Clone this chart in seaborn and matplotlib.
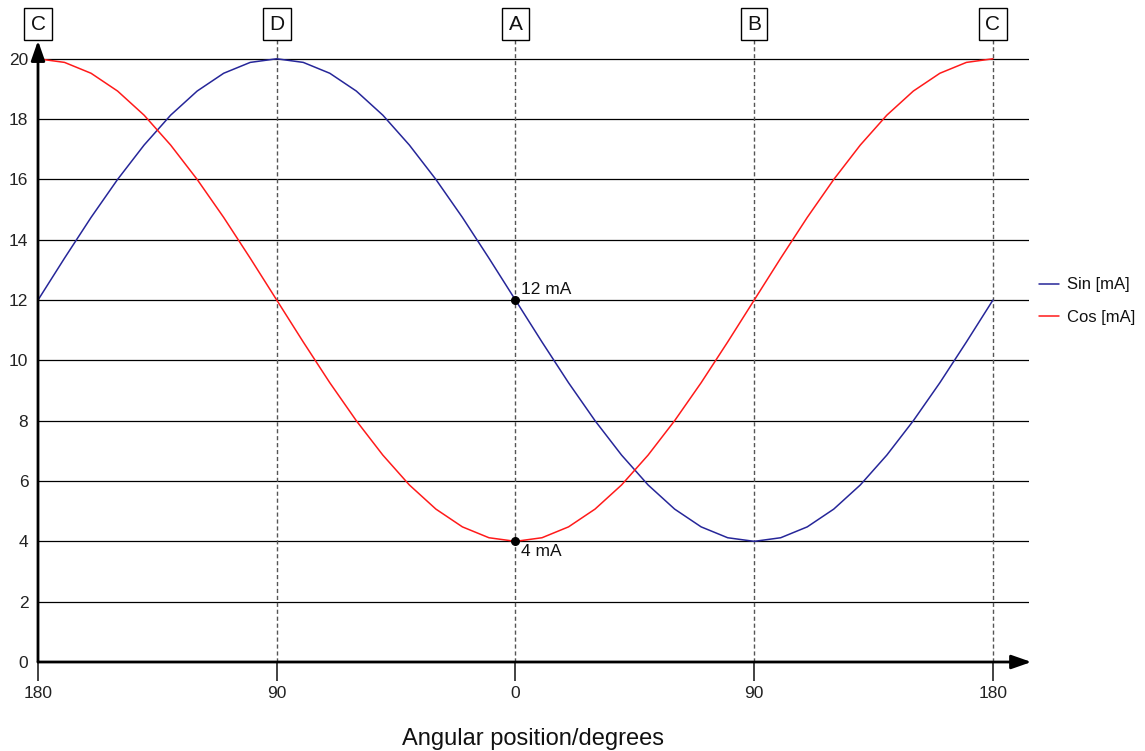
import matplotlib
matplotlib.use('Agg')
import matplotlib.pyplot as plt
import seaborn as sns
import pandas as pd

# angle in degrees, -180..180 step 10
angle = [-180, -170, -160, -150, -140, -130, -120, -110, -100, -90,
         -80, -70, -60, -50, -40, -30, -20, -10, 0,
         10, 20, 30, 40, 50, 60, 70, 80, 90,
         100, 110, 120, 130, 140, 150, 160, 170, 180]

sin_ma = [12.0, 13.39, 14.74, 16.0, 17.14, 18.13, 18.93, 19.52, 19.88, 20.0,
          19.88, 19.52, 18.93, 18.13, 17.14, 16.0, 14.74, 13.39, 12.0,
          10.61, 9.26, 8.0, 6.86, 5.87, 5.07, 4.48, 4.12, 4.0,
          4.12, 4.48, 5.07, 5.87, 6.86, 8.0, 9.26, 10.61, 12.0]

cos_ma = [20.0, 19.88, 19.52, 18.93, 18.13, 17.14, 16.0, 14.74, 13.39, 12.0,
          10.61, 9.26, 8.0, 6.86, 5.87, 5.07, 4.48, 4.12, 4.0,
          4.12, 4.48, 5.07, 5.87, 6.86, 8.0, 9.26, 10.61, 12.0,
          13.39, 14.74, 16.0, 17.14, 18.13, 18.93, 19.52, 19.88, 20.0]

marker_pos = [-180, -90, 0, 90, 180]
marker_names = ['C', 'D', 'A', 'B', 'C']
tick_labels = ['180', '90', '0', '90', '180']
y_ticks = [0, 2, 4, 6, 8, 10, 12, 14, 16, 18, 20]

sns.set_style('white')
plt.rcParams['font.family'] = ['Liberation Sans', 'DejaVu Sans']
plt.rcParams['text.color'] = '#111111'
plt.rcParams['xtick.color'] = '#222222'
plt.rcParams['ytick.color'] = '#222222'
plt.rcParams['axes.labelcolor'] = '#111111'

df = pd.DataFrame({'angle': angle + angle,
                   'value': sin_ma + cos_ma,
                   'series': ['Sin [mA]'] * len(angle) + ['Cos [mA]'] * len(angle)})

fig = plt.figure(figsize=(11.45, 7.51), dpi=100)
ax = fig.add_axes([38 / 1145, 89 / 751, 991 / 1145, 656 / 751])

ax.set_xlim(-180, 193.6)
ax.set_ylim(0, 21.75)

# horizontal grid lines
for y in y_ticks[1:]:
    ax.axhline(y, color='black', lw=0.9, zorder=1)

# dashed vertical lines
for x in marker_pos[1:]:
    ax.plot([x, x], [0, 20.65], color='#555555', lw=1.0, ls=(0, (3, 2)), zorder=1, clip_on=False)

sns.lineplot(data=df, x='angle', y='value', hue='series',
             palette={'Sin [mA]': '#262699', 'Cos [mA]': '#ff1a1a'},
             lw=1.1, ax=ax, zorder=3)

# axes arrows
arrow = dict(arrowstyle='-|>,head_length=1.2,head_width=0.42', color='black', lw=2,
             shrinkA=0, shrinkB=0)
ax.annotate('', xy=(194.5, 0), xytext=(-180, 0), arrowprops=arrow,
            annotation_clip=False, zorder=4)
ax.annotate('', xy=(-180, 20.6), xytext=(-180, 0), arrowprops=arrow,
            annotation_clip=False, zorder=4)

# boxed labels above
for x, name in zip(marker_pos, marker_names):
    ax.text(x, 21.15, name, ha='center', va='center', fontsize=15,
            bbox=dict(boxstyle='square,pad=0.3', fc='white', ec='black', lw=1.0),
            clip_on=False, zorder=6)

# marked points
ax.scatter([0, 0], [12, 4], color='black', s=30, zorder=5)
ax.text(2, 12.1, '12 mA', fontsize=12.5, ha='left', va='bottom')
ax.text(2, 3.9, '4 mA', fontsize=12.5, ha='left', va='top')

ax.set_xticks(marker_pos)
ax.set_xticklabels(tick_labels, fontsize=12.5)
ax.set_yticks(y_ticks)
ax.set_yticklabels([str(v) for v in y_ticks], fontsize=12.5)
ax.tick_params(axis='x', length=14, width=1.2, direction='out', pad=3)
ax.tick_params(axis='y', length=0, pad=7)
ax.xaxis.set_ticks_position('bottom')
for s in ax.spines.values():
    s.set_visible(False)

ax.set_xlabel('Angular position/degrees', fontsize=17, labelpad=20)
ax.set_ylabel('')

ax.legend(loc='center left', bbox_to_anchor=(0.995, 0.55), frameon=False, fontsize=12,
          handlelength=1.2, handletextpad=0.5, labelspacing=1.05)

plt.savefig('out.png', dpi=100)
